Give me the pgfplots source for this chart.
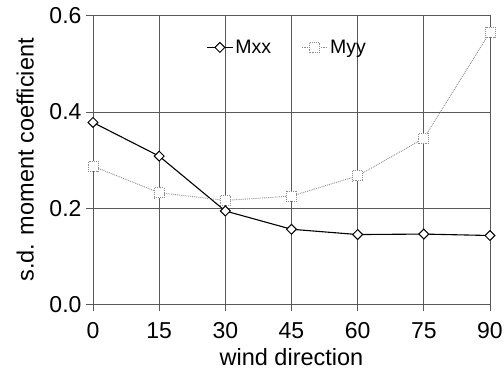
\documentclass[border=0pt]{standalone}
\usepackage{fontspec}
\setmainfont{Liberation Sans}
\usepackage{pgfplots}
\pgfplotsset{compat=1.18}
\definecolor{gridc}{gray}{0.35}
\definecolor{myyc}{gray}{0.55}
\begin{document}
\begin{tikzpicture}
\begin{axis}[
  scale only axis,
  width=397pt, height=288.6pt,
  xmin=0, xmax=90, ymin=0, ymax=0.6,
  xtick={0,15,30,45,60,75,90},
  ytick={0,0.2,0.4,0.6},
  grid=major,
  grid style={gridc, line width=0.7pt},
  axis line style={gridc, line width=0.7pt},
  tick style={gridc, line width=0.7pt},
  tick align=outside,
  major tick length=7pt,
  xtick pos=bottom, ytick pos=left,
  /pgf/number format/assume math mode=true,
  yticklabel style={xshift=-1pt, /pgf/number format/.cd, fixed, fixed zerofill, precision=1},
  xticklabel style={yshift=-8pt},
  tick label style={font=\fontsize{23}{25}\selectfont},
  every axis x label/.style={at={(axis description cs:0.5,-0.184)}, anchor=center},
  every axis y label/.style={at={(axis description cs:-0.171,0.5)}, anchor=center, rotate=90},
  label style={font=\fontsize{23.5}{26}\selectfont},
  xlabel={wind direction},
  ylabel={s.d. moment coefficient},
  legend columns=2,
  legend style={draw=none, fill=none, at={(axis description cs:0.285,0.89)}, anchor=west,
    inner sep=0pt, font=\fontsize{19.5}{21}\selectfont,
    /tikz/every even column/.append style={column sep=28pt}},
  legend image code/.code={\draw[mark repeat=2,mark phase=2,#1] plot coordinates {(0pt,0pt) (13pt,0pt) (26pt,0pt)};},
]
\addplot[black, line width=1.1pt, mark=square*, mark size=3.5pt,
  mark options={fill=white, rotate=45, solid, line width=1pt}]
  coordinates {(0,0.378) (15,0.308) (30,0.194) (45,0.156) (60,0.145) (75,0.146) (90,0.143)};
\addlegendentry{Mxx}
\addplot[myyc, line width=0.9pt, densely dotted, mark=square*, mark size=5pt,
  mark options={fill=white, densely dotted, line width=0.9pt}]
  coordinates {(0,0.287) (15,0.232) (30,0.216) (45,0.225) (60,0.267) (75,0.345) (90,0.566)};
\addlegendentry{Myy}
\end{axis}
\pgfresetboundingbox
\path (-93pt,-69.7pt) rectangle (411pt,304.3pt);
\end{tikzpicture}
\end{document}
